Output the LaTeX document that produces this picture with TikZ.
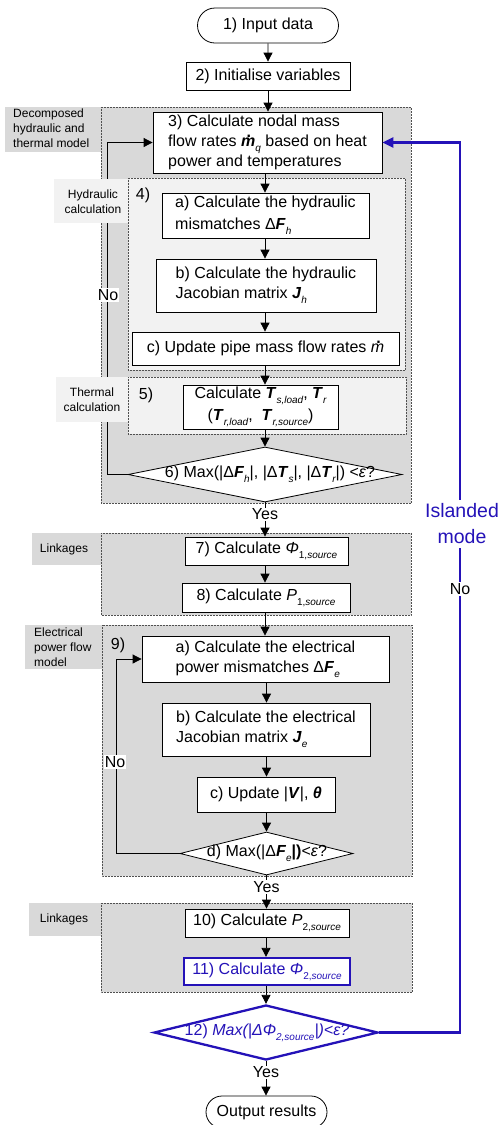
\documentclass[tikz,border=0pt]{standalone}
\usepackage{fontspec}
\setmainfont{Liberation Sans}
\usetikzlibrary{arrows.meta,shapes.geometric,shapes.misc}
\definecolor{grp}{RGB}{217,217,217}
\definecolor{grl}{RGB}{242,242,242}
\definecolor{bl}{RGB}{36,18,184}
\definecolor{bord}{RGB}{80,80,80}
\newcommand{\bi}[1]{\textbf{\textit{#1}}}
\newcommand{\sbs}[1]{\raisebox{-0.3em}{\fontsize{10}{10}\selectfont\itshape #1}}
\newcommand{\sbn}[2]{\raisebox{-0.3em}{\fontsize{10}{10}\selectfont #1\textit{#2}}}
\newcommand{\dm}[1]{\makebox[0pt][l]{\hspace{0.34em}\smash{\raisebox{0.58em}{\textbf{.}}}}#1}
\begin{document}
\begin{tikzpicture}[x=1pt,y=-1pt,
  every node/.style={font=\fontsize{16}{20}\selectfont},
  box/.style={draw, fill=white, line width=0.8pt, inner sep=0pt, align=center},
  lbox/.style={box, align=left},
  term/.style={rounded rectangle, draw, fill=white, line width=0.8pt, inner sep=0pt},
  dia/.style={diamond, draw, fill=white, line width=0.8pt, inner sep=0pt},
  grpbox/.style={fill=#1, draw=bord, densely dotted, line width=0.5pt},
  labrect/.style={fill=#1, inner sep=0pt},
  labtxt/.style={inner sep=0pt, font=\fontsize{12}{15}\selectfont},
  arr/.style={-{Triangle[width=9pt,length=9pt]}, line width=0.8pt},
  blarr/.style={-{Triangle[width=10pt,length=11pt]}, line width=2.3pt, draw=bl},
  yes/.style={fill=white, inner sep=1pt},
  nolab/.style={fill=white, inner sep=1pt},
]
\useasboundingbox (0,0) rectangle (503,1125);

% ---------- groups ----------
\draw[grpbox=grp] (101,107) rectangle (411,503);
\node[labrect=grp, minimum width=96pt, minimum height=45pt] (l1) at (53,129.5) {};
\node[labtxt, align=left, anchor=west] (tl1) at (13,128) {Decomposed\\hydraulic and\\thermal model};
\draw[grpbox=grl] (128,178) rectangle (405,370);
\draw[grpbox=grl] (128,377) rectangle (406,434);
\draw[grpbox=grp] (101,533) rectangle (411,615);
\node[labrect=grp, minimum width=69pt, minimum height=32pt] (l4) at (66.5,549) {};
\node[labtxt] (tl4) at (64,549) {Linkages};
\draw[grpbox=grp] (102,625) rectangle (412,876);
\node[labrect=grp, minimum width=77pt, minimum height=44pt] (l5) at (63.5,647) {};
\node[labtxt, align=left, anchor=west] (tl5) at (34,647) {Electrical\\power flow\\model};
\draw[grpbox=grp] (101,903) rectangle (412,992);
\node[labrect=grp, minimum width=72pt, minimum height=33pt] (l6) at (65,919.5) {};
\node[labtxt] (tl6) at (64,919.5) {Linkages};

% ---------- nodes ----------
\node[term, minimum width=141pt, minimum height=35pt] (in) at (268,25.5) {1) Input data};
\node[box, minimum width=164pt, minimum height=28pt] (init) at (268,76) {2) Initialise variables};
\node[lbox, minimum width=229pt, minimum height=61pt] (b3) at (267.5,142.5)
  {3) Calculate nodal mass\\flow rates \dm{\bi{m}}\sbs{q} based on heat\\power and temperatures};
\node (n4) at (143,195) {4)};
\node[lbox, minimum width=207pt, minimum height=45pt, font=\fontsize{16}{22}\selectfont] (b4a) at (265.5,215.5)
  {a) Calculate the hydraulic\\mismatches Δ\bi{F}\sbs{h}};
\node[lbox, minimum width=220pt, minimum height=53pt] (b4b) at (266,285.5)
  {b) Calculate the hydraulic\\Jacobian matrix \bi{J}\sbs{h}};
\node[box, minimum width=267pt, minimum height=33pt] (b4c) at (265.5,348.5)
  {c) Update pipe mass flow rates \dm{\textit{m}}};
\node (n5) at (146,395) {5)};
\node[box, minimum width=155pt, minimum height=44pt, font=\fontsize{16}{22}\selectfont] (b5) at (260.5,407)
  {Calculate \bi{T}\sbs{s,load}, \bi{T}\sbs{r}\\(\bi{T}\sbs{r,load},\ \ \bi{T}\sbs{r,source})};
\node[dia, minimum width=274pt, minimum height=55pt] (d6) at (265,474.5) {};
\node (t6) at (270,474.5) {6) Max(|Δ\bi{F}\sbs{h}|, |Δ\bi{T}\sbs{s}|, |Δ\bi{T}\sbs{r}|) <\textit{ε}?};

\node[box, minimum width=163pt, minimum height=28pt] (b7) at (266.5,551) {7) Calculate \textit{Φ}\sbn{1,}{source}};
\node[box, minimum width=168pt, minimum height=29pt] (b8) at (266,597.5) {8) Calculate \textit{P}\sbn{1,}{source}};

\node (n9) at (118,645) {9)};
\node[lbox, minimum width=247pt, minimum height=46pt] (b9a) at (265.5,659)
  {a) Calculate the electrical\\power mismatches Δ\bi{F}\sbs{e}};
\node[lbox, minimum width=208pt, minimum height=53pt] (b9b) at (266,729.5)
  {b) Calculate the electrical\\Jacobian matrix \bi{J}\sbs{e}};
\node[box, minimum width=138pt, minimum height=35pt] (b9c) at (266,794.5) {c) Update |\bi{V}|, \bi{θ}};
\node[dia, minimum width=173pt, minimum height=43pt] (d9) at (266.5,853.5) {};
\node (t9) at (267,853.5) {d) Max(|Δ\bi{F}\sbs{e}\textbf{|)}<\textit{ε}?};

\node[box, minimum width=164pt, minimum height=28pt] (b10) at (267,923) {10) Calculate \textit{P}\sbn{2,}{source}};
\node[box, draw=bl, line width=2.3pt, text=bl, minimum width=166pt, minimum height=27pt] (b11) at (267,971.5)
  {11) Calculate \textit{Φ}\sbn{2,}{source}};
\node[dia, draw=bl, line width=2.3pt, minimum width=224pt, minimum height=55pt] (d12) at (266,1032.5) {};
\node[text=bl] (t12) at (267,1032.5) {12) \textit{Max(|ΔΦ\sbn{2,}{source}|)<ε?}};
\node[term, minimum width=121pt, minimum height=32pt] (out) at (266.5,1112) {Output results};

% ---------- connectors ----------
\draw[arr] (in) -- (init);
\draw[arr] (init.south) -- (init.south |- b3.north);
\draw[arr] (b3.south -| d6.north) -- (d6.north |- b4a.north);
\draw[arr] (b4a.south -| d6.north) -- (d6.north |- b4b.north);
\draw[arr] (b4b.south -| d6.north) -- (d6.north |- b4c.north);
\draw[arr] (b4c.south -| d6.north) -- (d6.north |- b5.north);
\draw[arr] (b5.south -| d6.north) -- (d6.north);
\draw[arr] (d6.south) -- node[yes, pos=0.35] (y6) {Yes} (d6.south |- b7.north);
\draw[arr] (b7.south -| d6.north) -- (d6.north |- b8.north);
\draw[arr] (b8.south -| d6.north) -- (d6.north |- b9a.north);
\draw[arr] (b9a.south -| d9.north) -- (d9.north |- b9b.north);
\draw[arr] (b9b.south -| d9.north) -- (d9.north |- b9c.north);
\draw[arr] (b9c.south -| d9.north) -- (d9.north);
\draw[arr] (d9.south) -- node[yes, pos=0.35] (y9) {Yes} (d9.south |- b10.north);
\draw[arr] (b10.south -| d12.north) -- (d12.north |- b11.north);
\draw[arr] (b11.south -| d12.north) -- (d12.north);
\draw[arr] (d12.south) -- node[yes, pos=0.33] (y12) {Yes} (d12.south |- out.north);

% loops
\coordinate (c6) at (107,474.5);
\draw[arr] (d6.west) -- (c6) |- (b3.west);
\node[nolab] (no6) at (108,295) {No};
\coordinate (c9) at (116,853.5);
\draw[arr] (d9.west) -- (c9) |- (b9a.west);
\node[nolab] (no9) at (115,762) {No};
\coordinate (c12) at (460,1032.5);
\draw[blarr] (d12.east) -- (c12) |- (b3.east);
\node[fill=white, text=bl, font=\fontsize{19.5}{26}\selectfont, align=center, inner xsep=1pt, inner ysep=4pt] (isl) at (462,524) {Islanded\\mode};
\node[nolab] (no12) at (460,589) {No};

% labels drawn over loop lines
\node[labrect=grl, minimum width=74pt, minimum height=44pt] (l2) at (91,201) {};
\node[labtxt, align=center] (tl2) at (93,201.5) {Hydraulic\\calculation};
\node[labrect=grl, minimum width=72pt, minimum height=45pt] (l3) at (92,399.5) {};
\node[labtxt, align=center] (tl3) at (92,399.5) {Thermal\\calculation};
\end{tikzpicture}
\end{document}
